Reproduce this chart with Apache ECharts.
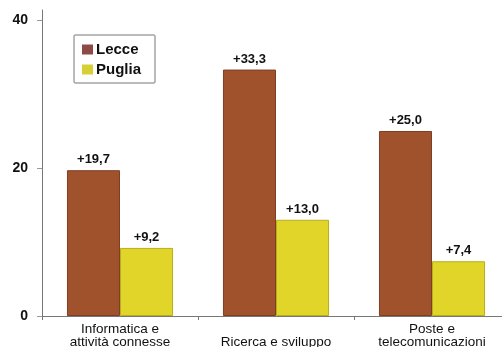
<!DOCTYPE html>
<html>
<head>
<meta charset="utf-8">
<script src="https://cdn.jsdelivr.net/npm/echarts@6/dist/echarts.min.js"></script>
<style>
  html, body { margin: 0; padding: 0; background: #fff; overflow: hidden; }
  #chart { width: 510px; height: 347px; }
</style>
</head>
<body>
<div id="chart"></div>
<script>
// Settori e variazioni percentuali
const categories = ['Informatica e\nattività connesse', '\nRicerca e sviluppo', 'Poste e\ntelecomunicazioni'];
const lecce = [19.7, 33.3, 25.0];
const puglia = [9.2, 13.0, 7.4];
const yTicks = [0, 20, 40];

const fmt = v => '+' + v.toFixed(1).replace('.', ',');

const chart = echarts.init(document.getElementById('chart'));
chart.setOption({
  animation: false,
  backgroundColor: '#fff',
  textStyle: { fontFamily: 'Liberation Sans, Arial, sans-serif' },
  grid: { left: 42, right: 0, top: 10, bottom: 31, containLabel: false, outerBoundsMode: 'none' },
  legend: {
    orient: 'vertical',
    left: 74,
    top: 35,
    padding: [7, 14, 6, 8],
    itemGap: 5,
    itemWidth: 11,
    itemHeight: 10,
    borderColor: '#777',
    borderWidth: 1,
    borderRadius: 1,
    textStyle: { fontSize: 15, color: '#111', fontWeight: 'bold', padding: [0, 0, 0, -2] },
    data: [
      { name: 'Lecce', icon: 'rect', itemStyle: { color: '#8e4a44', borderWidth: 0 } },
      { name: 'Puglia', icon: 'rect', itemStyle: { color: '#d6d035', borderWidth: 0 } }
    ]
  },
  xAxis: {
    type: 'category',
    data: categories,
    axisLine: { lineStyle: { color: '#777', width: 1 } },
    axisTick: { show: true, length: 4, lineStyle: { color: '#777' } },
    axisLabel: { fontSize: 13.5, lineHeight: 13, color: '#111', margin: 7, interval: 0 }
  },
  yAxis: {
    type: 'value',
    min: 0,
    max: 41.35,
    interval: 20,
    splitLine: { show: false },
    axisLine: { show: true, lineStyle: { color: '#777', width: 1 } },
    axisTick: { show: true, length: 5, lineStyle: { color: '#999' } },
    axisLabel: {
      fontSize: 14, fontWeight: 'bold', color: '#111', margin: 14,
      showMaxLabel: false,
      formatter: v => (yTicks.includes(v) ? String(v) : '')
    }
  },
  series: [
    {
      name: 'Lecce',
      type: 'bar',
      data: lecce,
      barGap: '0%',
      barCategoryGap: '32%',
      itemStyle: { color: '#a0522d', borderColor: '#7e3e22', borderWidth: 1 },
      label: {
        show: true, position: 'top', distance: 4,
        fontSize: 13, fontWeight: 'bold', color: '#111',
        formatter: p => fmt(p.value)
      }
    },
    {
      name: 'Puglia',
      type: 'bar',
      data: puglia,
      itemStyle: { color: '#e1d52a', borderColor: '#b8ac20', borderWidth: 1 },
      label: {
        show: true, position: 'top', distance: 4,
        fontSize: 13, fontWeight: 'bold', color: '#111',
        formatter: p => fmt(p.value)
      }
    }
  ]
});
</script>
</body>
</html>
